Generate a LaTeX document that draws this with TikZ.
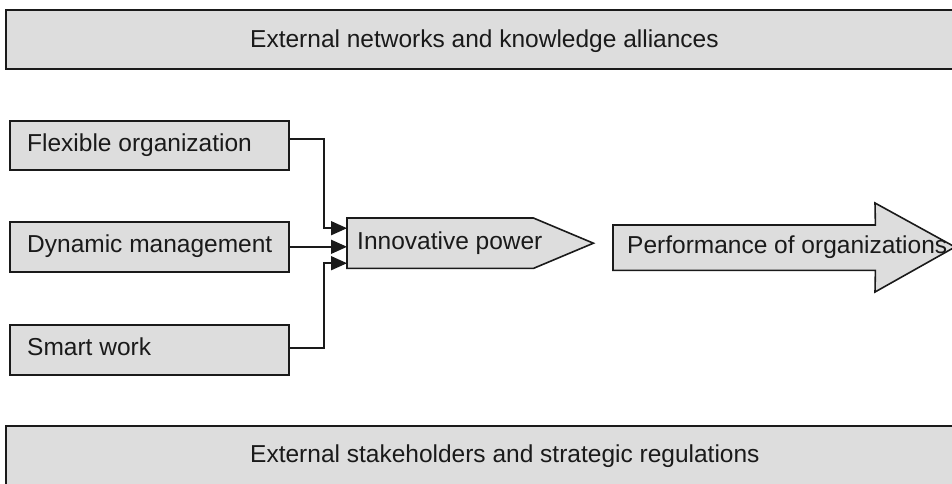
\documentclass[tikz,border=0pt]{standalone}
\usepackage{fontspec}
\setmainfont{Liberation Sans}
\usetikzlibrary{arrows.meta,calc}
\definecolor{boxfill}{HTML}{DDDDDD}
\definecolor{linec}{HTML}{1A1A1A}
\definecolor{textc}{HTML}{1A1A1A}
\begin{document}
\begin{tikzpicture}[x=1pt,y=-1pt,
  shapebox/.style={draw=linec, fill=boxfill, line width=1.6pt},
  framebox/.style={shapebox, inner sep=0pt, anchor=north west},
  lbl/.style={font=\fontsize{24.5}{28}\selectfont, text=textc, inner sep=0pt, anchor=base west},
  conn/.style={draw=linec, line width=1.5pt},
  tipped/.style={-{Triangle[length=16pt,width=14pt]}}]
\clip (0,0) rectangle (952,483);
\fill[white] (0,0) rectangle (952,483);

% outer bands
\node[framebox, minimum width=970pt, minimum height=59pt] (top) at (5,9) {};
\node[lbl] (toptext) at (250,47) {External networks and knowledge alliances};
\node[framebox, minimum width=970pt, minimum height=80pt] (bottom) at (5,425) {};
\node[lbl] (bottomtext) at (250,462) {External stakeholders and strategic regulations};

% left boxes
\node[framebox, minimum width=279pt, minimum height=49pt] (flex) at (9,120) {};
\node[lbl] (flextext) at (27,151) {Flexible organization};
\node[framebox, minimum width=279pt, minimum height=50pt] (dyn) at (9,221) {};
\node[lbl] (dyntext) at (27,252) {Dynamic management};
\node[framebox, minimum width=279pt, minimum height=50pt] (smart) at (9,324) {};
\node[lbl] (smarttext) at (27,355) {Smart work};

% innovative power pentagon
\node[inner sep=0pt, minimum width=186pt, minimum height=50pt, anchor=north west] (innov) at (347,218) {};
\draw[shapebox] (innov.north west) -- (innov.north east) -- ([xshift=60pt]innov.east)
  -- (innov.south east) -- (innov.south west) -- cycle;
\node[lbl] (innovtext) at (357,249) {Innovative power};

% performance arrow
\node[inner sep=0pt, minimum width=262pt, minimum height=45pt, anchor=north west] (perfbody) at (613,225) {};
\draw[shapebox] (perfbody.north west) -- (perfbody.north east) -- (875,203)
  -- (955,247) -- (875,292) -- (perfbody.south east) -- (perfbody.south west) -- cycle;
\node[lbl] (perf) at (627,253) {Performance of organizations};

% connectors
\draw[conn, tipped] ([yshift=6.5pt]flex.east) -| ([xshift=-23pt,yshift=15pt]innov.west)
  -- ([yshift=15pt]innov.west);
\draw[conn, tipped] (dyn.east) -- (dyn.east -| innov.west);
\draw[conn, tipped] ([yshift=2pt]smart.east) -| ([xshift=-23pt,yshift=-20pt]innov.west)
  -- ([yshift=-20pt]innov.west);
\end{tikzpicture}
\end{document}
